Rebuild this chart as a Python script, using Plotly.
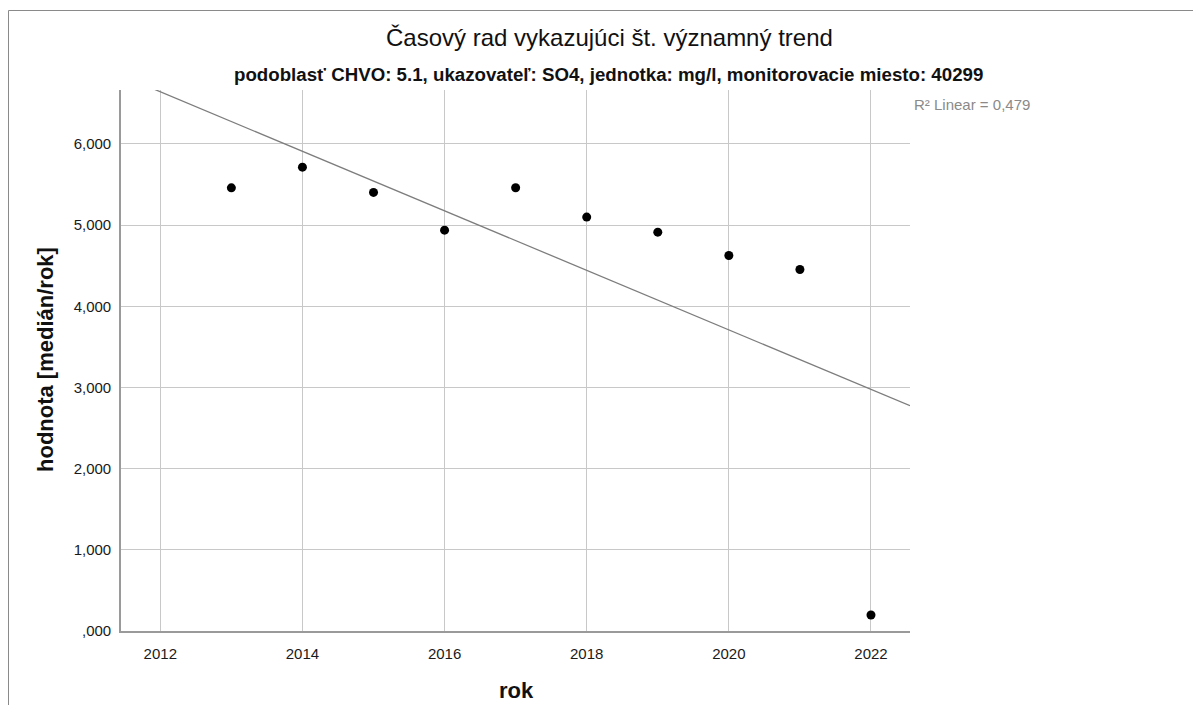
import numpy as np
import plotly.graph_objects as go

# values
years = [2013, 2014, 2015, 2016, 2017, 2018, 2019, 2020, 2021, 2022]
values = [5460, 5714, 5403, 4938, 5461, 5099, 4914, 4626, 4454, 197]

x_ticks = [2012, 2014, 2016, 2018, 2020, 2022]
y_ticks = [0, 1000, 2000, 3000, 4000, 5000, 6000]
y_ticktext = [',000', '1,000', '2,000', '3,000', '4,000', '5,000', '6,000']

title_text = 'Časový rad vykazujúci št. významný trend'
subtitle_text = 'podoblasť CHVO: 5.1, ukazovateľ: SO4, jednotka: mg/l, monitorovacie miesto: 40299'
r2_text = 'R² Linear = 0,479'

x_range = [2011.447, 2022.549]
y_range = [0, 6665]

# linear fit across the whole x axis (clipped by the plot area)
slope, intercept = np.polyfit(years, values, 1)
fit_x = np.array(x_range)
fit_y = slope * fit_x + intercept

font = 'Liberation Sans, Arial, sans-serif'

# the page body has an 8px margin, so the figure is sized to fit inside it
ml, mr, mt, mb = 113, 283, 82, 74
W, H = 1185, 697
pw = W - ml - mr
ph = H - mt - mb


def px(x):
    # page pixel x -> paper coordinate
    return (x - 8 - ml) / pw


def py(y):
    # page pixel y -> paper coordinate
    return (H - mb + 8 - y) / ph


fig = go.Figure()
fig.add_trace(go.Scatter(x=fit_x, y=fit_y, mode='lines',
                         line=dict(color='#7d7d7d', width=1.3),
                         hoverinfo='skip', showlegend=False))
fig.add_trace(go.Scatter(x=years, y=values, mode='markers',
                         marker=dict(color='black', size=9),
                         showlegend=False))

fig.update_layout(
    width=W, height=H,
    margin=dict(l=ml, r=mr, t=mt, b=mb),
    paper_bgcolor='white', plot_bgcolor='white',
    font=dict(family=font, color='#1a1a1a'),
    showlegend=False,
)

fig.update_xaxes(range=x_range, tickvals=x_ticks, showgrid=True,
                 gridcolor='#c8c8c8', gridwidth=1, zeroline=False,
                 showline=True, linecolor='#9a9a9a', linewidth=1.6,
                 tickfont=dict(size=15, color='#1a1a1a'),
                 ticklabelstandoff=8)
fig.update_yaxes(range=y_range, tickvals=y_ticks, ticktext=y_ticktext,
                 showgrid=True, gridcolor='#c8c8c8', gridwidth=1,
                 zeroline=False, showline=True, linecolor='#9a9a9a',
                 linewidth=1.6, tickfont=dict(size=15, color='#1a1a1a'),
                 ticklabelstandoff=5)

# outer frame of the chart (only top and left edges are visible)
fig.add_shape(type='line', xref='paper', yref='paper',
              x0=px(8.5), x1=px(1240), y0=py(10.5), y1=py(10.5),
              line=dict(color='#8a8a8a', width=1), layer='below')
fig.add_shape(type='line', xref='paper', yref='paper',
              x0=px(8.5), x1=px(8.5), y0=py(10.5), y1=py(760),
              line=dict(color='#8a8a8a', width=1), layer='below')

# titles
fig.add_annotation(text=title_text, xref='paper', yref='paper',
                   x=px(609), y=py(38), showarrow=False,
                   xanchor='center', yanchor='middle',
                   font=dict(size=24, color='#111111'))
fig.add_annotation(text='<b>' + subtitle_text + '</b>', xref='paper', yref='paper',
                   x=px(608), y=py(74), showarrow=False,
                   xanchor='center', yanchor='middle',
                   font=dict(size=18.7, color='#111111'))
fig.add_annotation(text=r2_text, xref='paper', yref='paper',
                   x=px(912), y=py(104), showarrow=False,
                   xanchor='left', yanchor='middle',
                   font=dict(size=15, color='#8a8a8a'))

# axis titles
fig.add_annotation(text='<b>hodnota [medián/rok]</b>', xref='paper', yref='paper',
                   x=px(45), y=py(360), showarrow=False, textangle=-90,
                   xanchor='center', yanchor='middle',
                   font=dict(size=22, color='#111111'))
fig.add_annotation(text='<b>rok</b>', xref='paper', yref='paper',
                   x=px(516), y=py(690), showarrow=False,
                   xanchor='center', yanchor='middle',
                   font=dict(size=22, color='#111111'))

fig.write_html("out.html")
